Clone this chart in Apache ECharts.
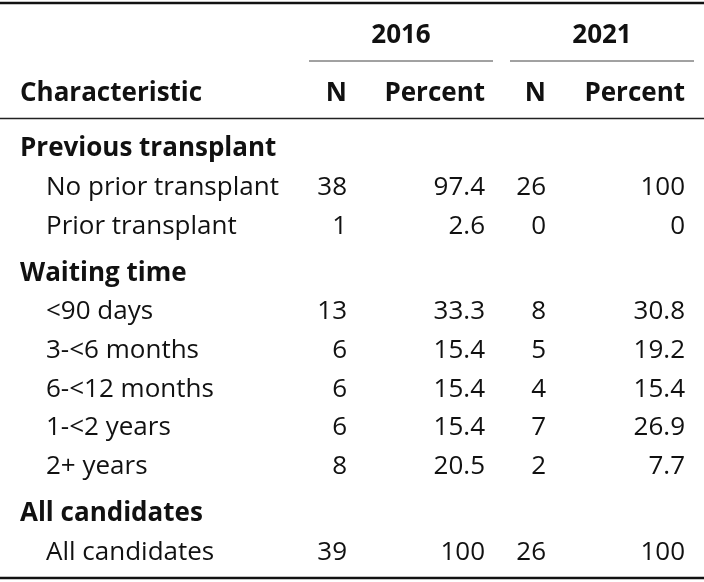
<!DOCTYPE html>
<html>
<head>
<meta charset="utf-8">
<script src="https://cdn.jsdelivr.net/npm/echarts@6/dist/echarts.min.js"></script>
<style>html,body{margin:0;padding:0;background:#fff}#c{width:704px;height:582px}</style>
</head>
<body>
<div id="c"></div>
<script>
// ---- data ----
const years = ['2016', '2021'];
const colHeaders = ['Characteristic', 'N', 'Percent', 'N', 'Percent'];
const groups = ['Previous transplant', 'Waiting time', 'All candidates'];
const rowLabels = [
  ['No prior transplant', 'Prior transplant'],
  ['<90 days', '3-<6 months', '6-<12 months', '1-<2 years', '2+ years'],
  ['All candidates']
];
const n2016 = [[38, 1], [13, 6, 6, 6, 8], [39]];
const pct2016 = [[97.4, 2.6], [33.3, 15.4, 15.4, 15.4, 20.5], [100]];
const n2021 = [[26, 0], [8, 5, 4, 7, 2], [26]];
const pct2021 = [[100, 0], [30.8, 19.2, 15.4, 26.9, 7.7], [100]];

// ---- layout ----
const W = 704;
const FONT = '"Open Sans", "Noto Sans", sans-serif';
const FS = 26;
const INK = '#111';
const xLabel = 20, xIndent = 46;
const colRight = [347, 485, 546, 685];
const spanners = [[309, 493], [510, 694]];
const rowPitch = 38.6, groupGap = 8.6;
const yearBase = 42, headBase = 100;
const firstBase = 155;

function txt(s, x, base, align, bold) {
  return {
    type: 'text', x: x, y: base - 6,
    style: {
      text: String(s), x: 0, y: 0, fill: INK,
      font: (bold ? 'bold ' : '') + FS + 'px ' + FONT,
      align: align, verticalAlign: 'middle'
    }
  };
}
function hline(x1, x2, y, w, c) {
  return { type: 'line', shape: { x1: x1, y1: y, x2: x2, y2: y }, style: { stroke: c, lineWidth: w } };
}

const els = [];
els.push(hline(0, W, 3, 2.5, '#111'));
years.forEach(function (yv, i) {
  const s = spanners[i];
  els.push(txt(yv, (s[0] + s[1]) / 2, yearBase, 'center', true));
  els.push(hline(s[0], s[1], 61, 1, '#444'));
});
els.push(txt(colHeaders[0], xLabel, headBase, 'left', true));
for (let k = 1; k < colHeaders.length; k++) {
  els.push(txt(colHeaders[k], colRight[k - 1], headBase, 'right', true));
}
els.push(hline(0, W, 118.5, 1.6, '#222'));

let base = firstBase;
groups.forEach(function (g, gi) {
  if (gi > 0) base += groupGap;
  els.push(txt(g, xLabel, base, 'left', true));
  base += rowPitch;
  rowLabels[gi].forEach(function (lab, ri) {
    els.push(txt(lab, xIndent, base, 'left', false));
    const vals = [n2016[gi][ri], pct2016[gi][ri], n2021[gi][ri], pct2021[gi][ri]];
    vals.forEach(function (v, ci) {
      els.push(txt(v, colRight[ci], base, 'right', false));
    });
    base += rowPitch;
  });
});
els.push(hline(0, W, 578, 2.5, '#111'));

const chart = echarts.init(document.getElementById('c'), null, { renderer: 'canvas' });
chart.setOption({ backgroundColor: '#fff', animation: false, graphic: { elements: els } });
</script>
</body>
</html>
